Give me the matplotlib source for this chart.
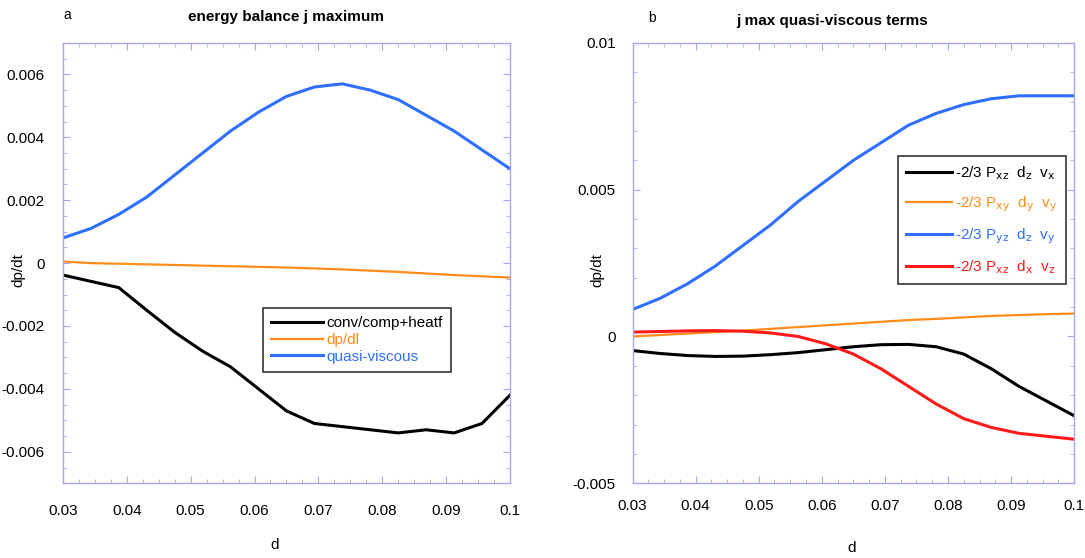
import numpy as np
import matplotlib
matplotlib.use("Agg")
import matplotlib.pyplot as plt
from matplotlib.ticker import MultipleLocator

plt.rcParams['font.family'] = ['Liberation Sans', 'DejaVu Sans']

# d values (17 samples, 0.03 .. 0.1)
d = [0.03, 0.034375, 0.03875, 0.043125, 0.0475, 0.051875, 0.05625, 0.060625, 0.065,
     0.069375, 0.07375, 0.078125, 0.0825, 0.086875, 0.09125, 0.095625, 0.1]

# panel a
conv = [-0.00038, -0.00058, -0.00078, -0.0015, -0.0022, -0.0028, -0.0033, -0.0040, -0.0047,
        -0.0051, -0.0052, -0.0053, -0.0054, -0.0053, -0.0054, -0.0051, -0.0042]
dpdl = [0.00005, 0.0, -0.00002, -0.00004, -0.00006, -0.00008, -0.0001, -0.00012, -0.00014,
        -0.00017, -0.0002, -0.00024, -0.00028, -0.00033, -0.00038, -0.00042, -0.00046]
qvisc = [0.0008, 0.0011, 0.00155, 0.0021, 0.0028, 0.0035, 0.0042, 0.0048, 0.0053,
         0.0056, 0.0057, 0.0055, 0.0052, 0.0047, 0.0042, 0.0036, 0.0030]

# panel b
pxz_dz_vx = [-0.00048, -0.00058, -0.00065, -0.00068, -0.00067, -0.00062, -0.00055, -0.00045, -0.00035,
             -0.00028, -0.00027, -0.00035, -0.0006, -0.0011, -0.0017, -0.0022, -0.0027]
pxy_dy_vy = [0.0, 0.00005, 0.0001, 0.00015, 0.0002, 0.00026, 0.00032, 0.00038, 0.00044,
             0.0005, 0.00056, 0.0006, 0.00065, 0.0007, 0.00073, 0.00076, 0.00078]
pyz_dz_vy = [0.00092, 0.0013, 0.0018, 0.0024, 0.0031, 0.0038, 0.0046, 0.0053, 0.0060,
             0.0066, 0.0072, 0.0076, 0.0079, 0.0081, 0.0082, 0.0082, 0.0082]
pxz_dx_vz = [0.00015, 0.00017, 0.00019, 0.0002, 0.00018, 0.00012, 0.0, -0.00025, -0.0006,
             -0.0011, -0.0017, -0.0023, -0.0028, -0.0031, -0.0033, -0.0034, -0.0035]

xticks = [0.03, 0.04, 0.05, 0.06, 0.07, 0.08, 0.09, 0.1]
xticklabels = ["0.03", "0.04", "0.05", "0.06", "0.07", "0.08", "0.09", "0.1"]

BLACK = "#000000"
ORANGE = "#ff8c1a"
BLUE = "#2f6fff"
RED = "#ff1a1a"
FRAME = "#a8a8f0"

fig = plt.figure(figsize=(10.85, 5.58), dpi=100)
axa = fig.add_axes([0.058, 0.134, 0.412, 0.789])
axb = fig.add_axes([0.583, 0.134, 0.407, 0.789])


def style(ax, ypad, xpad):
    for s in ax.spines.values():
        s.set_color(FRAME)
        s.set_linewidth(1.0)
    ax.tick_params(which="both", direction="in", top=True, right=True, color=FRAME,
                   labelsize=11)
    ax.tick_params(which="major", length=5)
    ax.tick_params(which="minor", length=3)
    ax.tick_params(axis="y", pad=ypad)
    ax.tick_params(axis="x", pad=xpad)
    ax.set_xlim(0.03, 0.1)
    ax.set_xticks(xticks)
    ax.set_xticklabels(xticklabels)
    ax.xaxis.set_minor_locator(MultipleLocator(0.0025))


# panel a
axa.plot(d, conv, color=BLACK, lw=2.2, label="conv/comp+heatf")
axa.plot(d, dpdl, color=ORANGE, lw=1.6, label="dp/dl")
axa.plot(d, qvisc, color=BLUE, lw=2.2, label="quasi-viscous")
style(axa, 13, 15)
axa.set_ylim(-0.007, 0.007)
axa.set_yticks([-0.006, -0.004, -0.002, 0, 0.002, 0.004, 0.006])
axa.set_yticklabels(["-0.006", "-0.004", "-0.002", "0", "0.002", "0.004", "0.006"])
axa.yaxis.set_minor_locator(MultipleLocator(0.0005))
leg = axa.legend(loc="lower left", bbox_to_anchor=(0.43, 0.235), fontsize=11, frameon=True,
                 fancybox=False, edgecolor="black", handlelength=3.4, handletextpad=0.2,
                 borderpad=0.55, labelspacing=0.18)
leg.get_frame().set_linewidth(1.2)
for t, c in zip(leg.get_texts(), [BLACK, ORANGE, BLUE]):
    t.set_color(c)

# panel b
axb.plot(d, pxz_dz_vx, color=BLACK, lw=2.2,
         label=r"-2/3 P$_{\mathrm{xz}}$  d$_{\mathrm{z}}$  v$_{\mathrm{x}}$")
axb.plot(d, pxy_dy_vy, color=ORANGE, lw=1.6,
         label=r"-2/3 P$_{\mathrm{xy}}$  d$_{\mathrm{y}}$  v$_{\mathrm{y}}$")
axb.plot(d, pyz_dz_vy, color=BLUE, lw=2.2,
         label=r"-2/3 P$_{\mathrm{yz}}$  d$_{\mathrm{z}}$  v$_{\mathrm{y}}$")
axb.plot(d, pxz_dx_vz, color=RED, lw=2.2,
         label=r"-2/3 P$_{\mathrm{xz}}$  d$_{\mathrm{x}}$  v$_{\mathrm{z}}$")
style(axb, 12, 11)
axb.set_ylim(-0.005, 0.01)
axb.set_yticks([-0.005, 0, 0.005, 0.01])
axb.set_yticklabels(["-0.005", "0", "0.005", "0.01"])
axb.yaxis.set_minor_locator(MultipleLocator(0.001))
legb = axb.legend(loc="upper right", bbox_to_anchor=(0.998, 0.76), fontsize=11, frameon=True,
                  fancybox=False, edgecolor="black", handlelength=3.0, handletextpad=0.2,
                  borderpad=0.55, labelspacing=0.8)
legb.get_frame().set_linewidth(1.2)
for t, c in zip(legb.get_texts(), [BLACK, ORANGE, BLUE, RED]):
    t.set_color(c)

# titles, panel letters, axis labels
fig.text(0.264, 0.97, "energy balance j maximum", ha="center", va="center",
         fontsize=11, fontweight="bold")
fig.text(0.767, 0.963, "j max quasi-viscous terms", ha="center", va="center",
         fontsize=11, fontweight="bold")
fig.text(0.062, 0.973, "a", ha="center", va="center", fontsize=10)
fig.text(0.601, 0.968, "b", ha="center", va="center", fontsize=10)
fig.text(18 / 1085, 1 - 270 / 558, "dp/dt", rotation=90, ha="center", va="center", fontsize=11)
fig.text(597 / 1085, 1 - 270 / 558, "dp/dt", rotation=90, ha="center", va="center", fontsize=11)
fig.text(275 / 1085, 1 - 545 / 558, "d", ha="center", va="center", fontsize=11)
fig.text(852 / 1085, 1 - 548 / 558, "d", ha="center", va="center", fontsize=11)

fig.savefig("out.png", dpi=100)
